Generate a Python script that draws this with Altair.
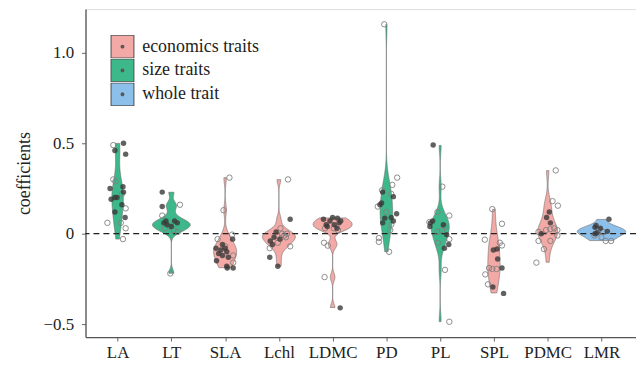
import altair as alt
import pandas as pd

traits = ["LA", "LT", "SLA", "Lchl", "LDMC", "PD", "PL", "SPL", "PDMC", "LMR"]
trait_group = ["size traits", "size traits", "economics traits", "economics traits",
               "economics traits", "size traits", "size traits", "economics traits",
               "economics traits", "whole trait"]
groups = ["economics traits", "size traits", "whole trait"]
group_colors = ["#F3A9A5", "#3DB88A", "#8DBFEB"]

y_ticks = [-0.5, 0, 0.5, 1.0]

# coefficient values per trait
coef = {
    "LA":   [0.49, 0.46, 0.50, 0.44, 0.30, 0.29, 0.25, 0.26, 0.23, 0.22, 0.20, 0.19, 0.20,
             0.16, 0.14, 0.12, 0.09, 0.06, 0.06, 0.03, -0.03],
    "LT":   [0.23, 0.16, 0.15, 0.10, 0.07, 0.06, 0.05, 0.04, 0.06, 0.07, 0.04, 0.02, 0.01,
             0.03, -0.22],
    "SLA":  [0.31, 0.13, -0.005, -0.03, -0.03, -0.06, -0.07, -0.08, -0.09, -0.08, -0.10,
             -0.11, -0.12, -0.13, -0.12, -0.15, -0.16, -0.18, -0.19, -0.19],
    "Lchl": [0.30, 0.08, 0.01, 0.0, 0.0, -0.01, -0.01, -0.02, -0.03, -0.04, -0.05, -0.06,
             -0.08, -0.07, -0.13, -0.18, 0.03, -0.02],
    "LDMC": [0.08, 0.086, 0.07, 0.09, 0.06, 0.05, 0.07, 0.04, 0.03, 0.03, 0.03, 0.05, 0.02,
             -0.05, -0.066, -0.24, -0.41],
    "PD":   [1.158, 0.31, 0.27, 0.24, 0.23, 0.22, 0.205, 0.17, 0.16, 0.15, 0.12, 0.11, 0.09,
             0.086, 0.07, 0.06, 0.05, 0.02, -0.024, -0.045, -0.10],
    "PL":   [0.49, 0.26, 0.12, 0.10, 0.064, 0.06, 0.07, 0.04, 0.04, 0.02, 0.05, 0.01, -0.005,
             -0.03, -0.05, -0.08, -0.06, -0.20, -0.487],
    "SPL":  [0.136, 0.055, -0.033, -0.05, -0.065, -0.09, -0.085, -0.14, -0.19, -0.195,
             -0.195, -0.19, -0.225, -0.28, -0.295, -0.33],
    "PDMC": [0.35, 0.18, 0.155, 0.12, 0.09, 0.06, 0.02, 0.025, 0.03, 0.02, 0.01, 0.0, -0.01,
             -0.04, -0.04, -0.085, -0.16],
    "LMR":  [0.08, 0.045, 0.035, 0.0, 0.013, -0.01, 0.005, -0.04, -0.04, 0.02, 0.01, -0.02,
             0.03],
}

# horizontal jitter of each point (in category widths)
jitter = {
    "LA":   [-0.08, -0.05, 0.11, 0.15, -0.08, -0.04, -0.14, 0.10, 0.11, 0.08, -0.05, -0.12,
             -0.01, 0.08, 0.15, -0.05, 0.14, -0.19, 0.06, 0.15, 0.10],
    "LT":   [-0.17, 0.16, -0.17, -0.17, -0.10, -0.14, -0.08, 0.0, 0.11, 0.06, -0.03, 0.04,
             0.12, -0.12, -0.02],
    "SLA":  [0.08, -0.03, 0.13, -0.14, 0.14, -0.05, 0.0, -0.17, -0.08, 0.0, 0.03, -0.12,
             -0.05, 0.06, 0.15, -0.16, 0.15, 0.03, 0.04, 0.15],
    "Lchl": [0.17, 0.21, -0.05, 0.06, 0.15, -0.03, 0.10, -0.09, 0.02, -0.16, -0.02, -0.12,
             -0.17, 0.21, -0.17, -0.02, 0.03, 0.13],
    "LDMC": [-0.17, 0.09, -0.05, 0.0, 0.12, 0.03, 0.15, -0.10, -0.14, 0.02, 0.08, -0.12,
             0.10, -0.16, -0.09, -0.15, 0.14],
    "PD":   [-0.04, 0.20, 0.11, -0.08, -0.07, 0.09, 0.13, -0.09, -0.12, -0.16, 0.0, 0.19,
             0.09, -0.03, 0.13, -0.07, 0.09, 0.07, -0.14, -0.14, 0.05],
    "PL":   [-0.13, 0.04, -0.05, 0.17, -0.20, -0.18, -0.14, -0.19, 0.09, 0.03, 0.06, -0.05,
             0.12, 0.17, -0.04, 0.08, 0.16, 0.09, 0.17],
    "SPL":  [-0.03, 0.15, -0.17, 0.11, 0.15, -0.01, 0.06, 0.07, -0.09, -0.03, 0.05, 0.15,
             -0.16, -0.11, -0.02, 0.18],
    "PDMC": [0.15, 0.09, 0.19, 0.03, -0.02, 0.05, -0.03, 0.05, 0.12, 0.18, -0.17, -0.12,
             0.18, -0.17, 0.05, -0.07, -0.21],
    "LMR":  [0.14, -0.10, -0.12, -0.12, 0.11, -0.13, -0.08, 0.08, 0.18, -0.05, 0.03, 0.0,
             -0.02],
}

# 1 = solid dark point, 0 = open circle
solid = {
    "LA":   [0, 1, 1, 1, 0, 0, 1, 1, 1, 0, 1, 1, 1, 1, 0, 1, 1, 0, 0, 0, 0],
    "LT":   [1, 0, 1, 0, 1, 1, 1, 1, 1, 1, 0, 0, 0, 0, 0],
    "SLA":  [0, 0, 0, 0, 1, 1, 0, 1, 1, 1, 1, 1, 1, 1, 0, 1, 0, 1, 1, 1],
    "Lchl": [0, 1, 1, 0, 0, 0, 0, 1, 1, 1, 0, 1, 0, 0, 1, 1, 0, 0],
    "LDMC": [1, 1, 1, 1, 1, 1, 1, 1, 0, 0, 1, 1, 0, 0, 0, 0, 1],
    "PD":   [0, 0, 0, 0, 1, 0, 1, 1, 1, 0, 0, 1, 1, 1, 1, 1, 0, 0, 0, 0, 0],
    "PL":   [1, 0, 0, 0, 0, 1, 1, 1, 0, 0, 1, 0, 1, 0, 0, 1, 1, 0, 0],
    "SPL":  [0, 0, 0, 0, 0, 1, 1, 1, 0, 0, 0, 1, 0, 0, 1, 1],
    "PDMC": [0, 0, 0, 1, 1, 1, 0, 0, 0, 0, 0, 1, 0, 0, 0, 0, 0],
    "LMR":  [1, 1, 1, 1, 1, 0, 1, 0, 0, 0, 0, 0, 1],
}

rows = []
for i, t in enumerate(traits):
    for v, j, s in zip(coef[t], jitter[t], solid[t]):
        rows.append({"trait": t, "idx": i, "group": trait_group[i],
                     "value": v, "xpos": i + j, "kind": "solid" if s else "open"})
df = pd.DataFrame(rows)

# data range of each trait, used to trim the violins like ggplot (trim=TRUE)
ext_df = pd.DataFrame({"trait": traits,
                       "lo": [min(coef[t]) for t in traits],
                       "hi": [max(coef[t]) for t in traits]})

FONT = "Liberation Serif"
XS = alt.Scale(domain=[-0.597, 9.643], nice=False, zero=False)
YS = alt.Scale(domain=[-0.5714, 1.2418], nice=False, zero=False)

label_expr = "[" + ",".join("'%s'" % t for t in traits) + "][datum.value]"
xax = alt.Axis(values=list(range(len(traits))), labelExpr=label_expr, title=None,
               grid=False, tickSize=4, labelPadding=4, labelFont=FONT, labelFontSize=17,
               labelColor="#222", tickColor="#666", domainColor="#555", domainWidth=1.3,
               labelAngle=0)
yax = alt.Axis(values=y_ticks, title="coefficients", grid=False, tickSize=4, labelPadding=8,
               labelExpr="datum.value == 0 ? '0' : replace(format(datum.value, '.1f'), '-', '\u2212')",
               labelFont=FONT, labelFontSize=17, labelColor="#222", tickColor="#666",
               domainColor="#555", domainWidth=1.3, titleFont=FONT, titleFontSize=18,
               titleFontWeight="normal", titleColor="#222", titleAngle=270,
               titleBaseline="alphabetic", titleX=-56, titleAlign="center")


def ring(r):
    return "M%g,0A%g,%g,0,1,1,%g,0A%g,%g,0,1,1,%g,0Z" % (r, r, r, -r, r, r, r)


# legend key: square swatch with a small dark dot in its centre
KEY = "M-1,-1L1,-1L1,1L-1,1Z" + ring(0.12) + ring(0.065) + ring(0.02)

base = alt.Chart(df)

violin = base.transform_density(
    "value", groupby=["trait", "idx", "group"], as_=["value", "density"],
    extent=[-0.5, 1.17], steps=600,
).transform_lookup(
    lookup="trait", from_=alt.LookupData(data=ext_df, key="trait", fields=["lo", "hi"])
).transform_filter(
    "datum.value >= datum.lo && datum.value <= datum.hi"
).transform_joinaggregate(
    maxd="max(density)"
).transform_calculate(
    left="datum.idx - 0.45 * datum.density / datum.maxd",
    right="datum.idx + 0.45 * datum.density / datum.maxd",
).mark_area(orient="horizontal", stroke="#6b6b6b", strokeWidth=0.6, opacity=1).encode(
    y=alt.Y("value:Q", scale=YS, axis=yax),
    x=alt.X("left:Q", scale=XS, axis=xax),
    x2="right:Q",
    fill=alt.Fill("group:N", scale=alt.Scale(domain=groups, range=group_colors),
                  legend=alt.Legend(title=None, orient="none", legendX=24.7, legendY=26,
                                    symbolType=KEY, symbolSize=529, clipHeight=23.4,
                                    symbolStrokeColor="#555555", symbolStrokeWidth=1.1,
                                    symbolOpacity=1, rowPadding=0, padding=0,
                                    labelFont=FONT, labelFontSize=18, labelColor="#222",
                                    labelOffset=7.4)),
    detail="trait:N",
)

zero_line = alt.Chart(pd.DataFrame({"y": [0]})).mark_rule(
    strokeDash=[6, 4], color="#222", strokeWidth=1.2
).encode(y=alt.Y("y:Q", scale=YS, axis=yax))

open_pts = base.transform_filter("datum.kind == 'open'").mark_point(
    shape="circle", size=30, filled=False, stroke="#808080", strokeWidth=0.9, opacity=1
).encode(x=alt.X("xpos:Q", scale=XS, axis=xax), y=alt.Y("value:Q", scale=YS, axis=yax))

solid_pts = base.transform_filter("datum.kind == 'solid'").mark_circle(
    size=30, color="#3a3a3a", opacity=0.8
).encode(x=alt.X("xpos:Q", scale=XS, axis=xax), y=alt.Y("value:Q", scale=YS, axis=yax))

chart = alt.layer(violin, zero_line, open_pts, solid_pts).properties(
    width=554, height=330,
    autosize=alt.AutoSizeParams(type="none"),
    padding={"left": 78, "top": 0, "right": 0, "bottom": 26},
).configure_view(stroke=None).configure(background="white")

chart.save("out.html", embed_options={"renderer": "svg", "actions": False})
